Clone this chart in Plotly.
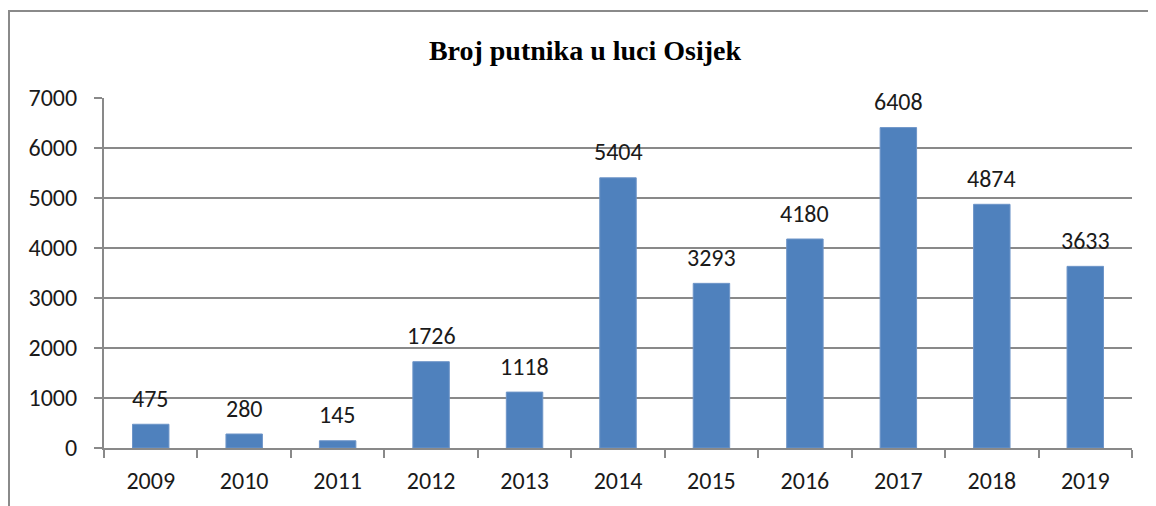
import plotly.graph_objects as go

godine = ["2009", "2010", "2011", "2012", "2013", "2014",
          "2015", "2016", "2017", "2018", "2019"]
putnici = [475, 280, 145, 1726, 1118, 5404, 3293, 4180, 6408, 4874, 3633]

naslov = "Broj putnika u luci Osijek"
y_tickovi = [0, 1000, 2000, 3000, 4000, 5000, 6000, 7000]

SIVA = "#898989"
PLAVA = "#4F81BD"
FONT = "Calibri, Carlito, 'Open Sans', sans-serif"

# stranica ima 8px margine tijela, pa je sve pomaknuto
L, T, R, B = 96, 90, 32, 66
SIRINA, VISINA = 1156, 506
plot_w = SIRINA - L - R
plot_h = VISINA - T - B

fig = go.Figure()

fig.add_trace(go.Bar(
    x=godine,
    y=putnici,
    marker=dict(color=PLAVA, line=dict(color="#6E95C8", width=1)),
    width=0.39,
    hoverinfo="x+y",
))

# oznake vrijednosti iznad stupaca (x kao indeks kategorije)
for i, p in enumerate(putnici):
    fig.add_annotation(
        x=i, y=p, text=str(p), showarrow=False,
        yanchor="middle", yshift=26,
        font=dict(family=FONT, size=24, color="#1a1a1a"),
    )

# okvir grafikona
fig.add_shape(
    type="rect", xref="paper", yref="paper",
    x0=(1 - L) / plot_w, x1=1.2, y0=-0.4, y1=(plot_h + T - 3) / plot_h,
    line=dict(color="#8a8a8a", width=2), layer="below",
)

fig.update_layout(
    width=SIRINA,
    height=VISINA,
    margin=dict(l=L, r=R, t=T, b=B, autoexpand=False),
    paper_bgcolor="white",
    plot_bgcolor="white",
    showlegend=False,
    title=dict(
        text=f"<b>{naslov}</b>",
        x=(585 - 8) / SIRINA, xanchor="center",
        yref="container", y=1 - 42 / VISINA, yanchor="middle",
        font=dict(family="'Liberation Serif', 'Times New Roman', serif", size=28, color="black"),
    ),
    font=dict(family=FONT, size=24, color="#1a1a1a"),
)

fig.update_xaxes(
    type="category",
    range=[-0.5, len(godine) - 0.5],
    tickangle=0,
    automargin=False,
    showline=True, linecolor=SIVA, linewidth=2,
    ticks="outside", tickson="boundaries", ticklen=8, tickwidth=2, tickcolor=SIVA,
    showgrid=False,
    ticklabelstandoff=10,
    tickfont=dict(family=FONT, size=24, color="#1a1a1a"),
)

fig.update_yaxes(
    range=[0, 7000],
    tickvals=y_tickovi,
    automargin=False,
    showline=True, linecolor=SIVA, linewidth=2,
    ticks="outside", ticklen=8, tickwidth=2, tickcolor=SIVA,
    showgrid=True, gridcolor=SIVA, gridwidth=2,
    zeroline=False,
    ticklabelstandoff=12,
    tickfont=dict(family=FONT, size=24, color="#1a1a1a"),
)

fig.write_html("out.html")
